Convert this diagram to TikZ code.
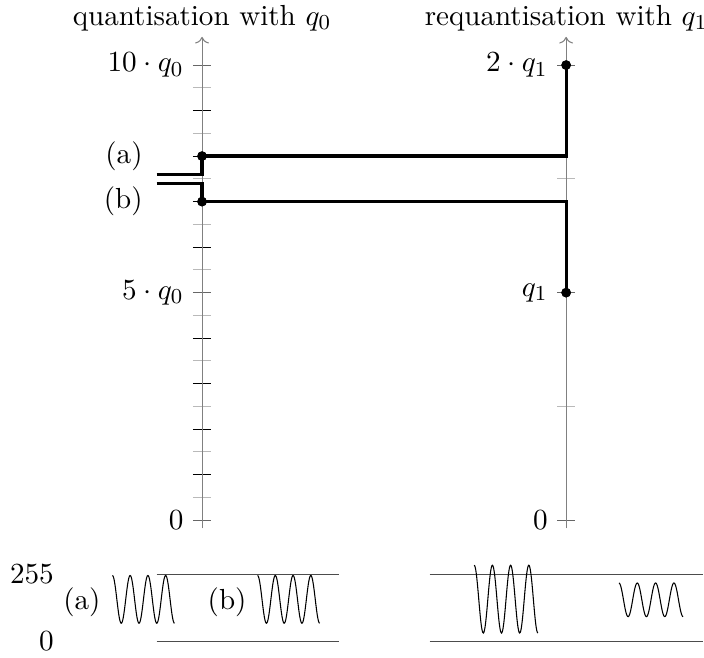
\documentclass[tikz,border=0pt]{standalone}
\usepackage{amsmath}
\usetikzlibrary{arrows.meta, positioning}

\begin{document}
\begin{tikzpicture}[
  x=0.6cm, y=0.6cm,
  every node/.style={font=\fontsize{10.9}{13}\selectfont},
  axis/.style={draw=gray, ->},
  majortick/.style={draw=black},
  labeltick/.style={draw=gray!80!black},
  minortick/.style={draw=gray!55},
  qline/.style={very thick},
  dot/.style={circle, fill, inner sep=0pt, minimum size=3.6pt},
  level/.style={draw=black!70},
  wave/.style={thin},
]
\useasboundingbox (-4.44,-3.01) rectangle (11.03,11.43);

% Axes
\foreach \i in {1,2,3,4,6,7,8,9}
  \draw[majortick] (-0.2,\i) -- (0.2,\i);
\foreach \i in {0,5,10}
  \draw[labeltick] (-0.2,\i) -- (0.2,\i);
\foreach \i in {0.5,1.5,...,9.5}
  \draw[minortick] (-0.2,\i) -- (0.2,\i);
\foreach \i in {0,5,10}
  \draw[labeltick] (7.8,\i) -- (8.2,\i);
\foreach \i in {2.5,7.5}
  \draw[minortick] (7.8,\i) -- (8.2,\i);
\draw[axis] (0,-0.18) -- (0,10.62) node[above, inner sep=2pt] (title0) {quantisation with $q_0$};
\draw[axis] (8,-0.18) -- (8,10.62) node[above, inner sep=2pt] (title1) {requantisation with $q_1$};

% Tick labels
\node[left] (zero0) at (-0.2,0) {$0$};
\node[left] (five0) at (-0.2,5) {$5\cdot q_0$};
\node[left] (ten0) at (-0.2,10) {$10\cdot q_0$};
\node[left] (zero1) at (7.8,0) {$0$};
\node[left] (one1) at (7.8,5) {$q_1$};
\node[left] (two1) at (7.8,10) {$2\cdot q_1$};

% Values
\coordinate (ina) at (-1,7.6);
\coordinate (inb) at (-1,7.4);
\node[dot] (a0) at (0,8) {};
\node[dot] (b0) at (0,7) {};
\node[dot] (a1) at (8,10) {};
\node[dot] (b1) at (8,5) {};
\node[left] (la) at (-1.1,8) {(a)};
\node[left] (lb) at (-1.1,7) {(b)};

\draw[qline] (ina) -| (a0.center) -| (a1.center);
\draw[qline] (inb) -| (b0.center) -| (b1.center);
\node[dot] at (a0) {};
\node[dot] at (b0) {};
\node[dot] at (a1) {};
\node[dot] at (b1) {};

% Signals
\node[left] (max) at (-3.05,-1.19) {$255$};
\node[left] (min) at (-3.05,-2.66) {$0$};
\draw[level] (-1,-1.19) -- (3,-1.19);
\draw[level] (-1,-2.66) -- (3,-2.66);
\draw[level] (5,-1.19) -- (11,-1.19);
\draw[level] (5,-2.66) -- (11,-2.66);
\node (wa) at (-2.64,-1.8) {(a)};
\node (wb) at (0.55,-1.8) {(b)};

\foreach \sx/\per/\cy/\amp in {-1.97/0.39/-1.74/0.525, 1.22/0.39/-1.74/0.525,
                               5.98/0.4/-1.735/0.745, 9.16/0.403/-1.75/0.37}
  \draw[wave] plot[domain=0:3.5, samples=120, smooth]
    ({\sx+\per*\x}, {\cy+\amp*cos(360*\x)});

\end{tikzpicture}
\end{document}
